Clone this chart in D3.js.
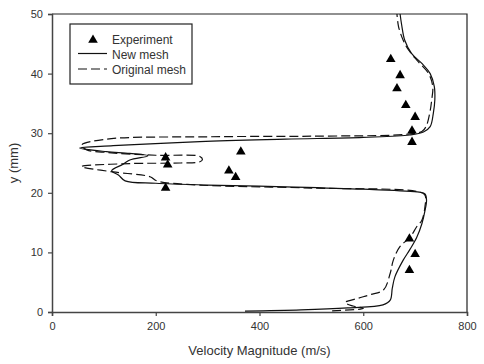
<!DOCTYPE html>
<html>
<head>
<meta charset="utf-8">
<script src="https://cdn.jsdelivr.net/npm/d3@7"></script>
<style>
  body { margin: 0; background: #fff; }
  text { font-family: "Liberation Sans", Arial, sans-serif; fill: #333; }
</style>
</head>
<body>
<script>
//data: [velocity (m/s), y (mm)]
var newMesh = [[372,0.15],[480,0.35],[570,0.7],[638,1.2],[652,2.0],[656,4.0],[661,5.9],[677,8.7],[690,10.5],[703,12.5],[713,14.8],[719,17],[722,18.8],[719,19.8],[708,20.1],[600,20.6],[450,21.0],[300,21.3],[200,21.6],[141,22.0],[128,23.0],[115,23.7],[137,24.8],[150,25.5],[185,26.2],[150,26.6],[105,26.9],[53,27.5],[118,27.9],[285,28.6],[450,29.0],[600,29.3],[690,29.7],[716,30.2],[729,31.1],[735,33.3],[738,35.6],[737,37.8],[729,40.0],[713,41.7],[693,43.4],[680,45.6],[674,48.2],[671,50]];
var origMesh = [[540,0.2],[600,0.6],[580,1.0],[565,1.6],[590,2.3],[613,2.9],[639,3.7],[652,6.5],[658,8.7],[671,11],[690,12.5],[703,14.3],[713,15.4],[719,17.7],[719,19.6],[705,20.2],[500,20.8],[285,21.3],[202,22.0],[189,22.7],[118,23.5],[57,24.4],[150,24.9],[247,25.0],[285,25.2],[290,25.6],[285,26.1],[200,26.3],[100,26.8],[67,27.2],[57,28.0],[105,29.0],[300,29.4],[500,29.5],[680,29.8],[713,30.3],[721,31.1],[728,33.3],[732,35.6],[734,37.8],[726,40],[706,42],[687,44],[677,45.6],[668,47.9],[665,50]];
var experiment = [[653,42.4],[671,39.7],[665,37.5],[682,34.7],[700,32.7],[694,30.4],[694,28.5],[364,26.9],[219,25.9],[223,24.7],[341,23.7],[354,22.6],[219,20.8],[689,12.3],[700,9.7],[689,7.0]];
var xTicks = [0, 200, 400, 600, 800];
var yTicks = [0, 10, 20, 30, 40, 50];
var legendLabels = ["Experiment", "New mesh", "Original mesh"];

(function(){

//frame
var width = 484, height = 364,
    plotLeft = 52, plotRight = 467, plotTop = 14, plotBottom = 312;

var svg = d3.select("body").append("svg")
    .attr("width", width)
    .attr("height", height);

var x = d3.scaleLinear().domain([0, 800]).range([plotLeft, plotRight]);
var y = d3.scaleLinear().domain([0, 50]).range([plotBottom, plotTop]);

//box top and right
svg.append("path")
    .attr("d", "M" + plotLeft + "," + plotTop + "H" + plotRight + "V" + plotBottom)
    .attr("fill", "none")
    .attr("stroke", "#222")
    .attr("stroke-width", 1.2);

//axes
var xAxis = svg.append("g")
    .attr("transform", "translate(0," + plotBottom + ")")
    .call(d3.axisBottom(x).tickValues(xTicks).tickSize(4).tickPadding(6));
var yAxis = svg.append("g")
    .attr("transform", "translate(" + plotLeft + ",0)")
    .call(d3.axisLeft(y).tickValues(yTicks).tickSize(4).tickPadding(5));

[xAxis, yAxis].forEach(function(a){
    a.select(".domain").attr("stroke", "#444").attr("stroke-width", 1.5);
    a.selectAll(".tick line").attr("stroke", "#444").attr("stroke-width", 1.2);
    a.selectAll(".tick text")
        .style("font-family", "Liberation Sans, Arial, sans-serif")
        .style("font-size", "11px")
        .attr("fill", "#333");
});

//axis titles
svg.append("text")
    .attr("x", (plotLeft + plotRight) / 2)
    .attr("y", 355)
    .attr("text-anchor", "middle")
    .style("font-size", "13px")
    .text("Velocity Magnitude (m/s)");

svg.append("text")
    .attr("transform", "translate(18," + ((plotTop + plotBottom) / 2) + ") rotate(-90)")
    .attr("text-anchor", "middle")
    .style("font-size", "13px")
    .text("y (mm)");

var line = d3.line()
    .x(function(d){ return x(d[0]); })
    .y(function(d){ return y(d[1]); })
    .curve(d3.curveCatmullRom.alpha(0.5));

svg.append("path")
    .datum(newMesh)
    .attr("d", line)
    .attr("fill", "none")
    .attr("stroke", "#111")
    .attr("stroke-width", 1.2);

svg.append("path")
    .datum(origMesh)
    .attr("d", line)
    .attr("fill", "none")
    .attr("stroke", "#111")
    .attr("stroke-width", 1.2)
    .attr("stroke-dasharray", "9,4");

var tri = d3.symbol().type(d3.symbolTriangle).size(40);

svg.selectAll(".exp")
    .data(experiment)
    .enter()
    .append("path")
    .attr("class", "exp")
    .attr("d", tri)
    .attr("transform", function(d){ return "translate(" + x(d[0]) + "," + y(d[1]) + ")"; })
    .attr("fill", "#000");

//legend
var legend = svg.append("g").attr("transform", "translate(70,24)");
legend.append("rect")
    .attr("width", 122).attr("height", 60)
    .attr("fill", "#fff").attr("stroke", "#222").attr("stroke-width", 1.2);

legend.append("path")
    .attr("d", tri)
    .attr("transform", "translate(23,16)")
    .attr("fill", "#000");
legend.append("line")
    .attr("x1", 8).attr("x2", 37).attr("y1", 29.5).attr("y2", 29.5)
    .attr("stroke", "#111").attr("stroke-width", 1.2);
legend.append("line")
    .attr("x1", 8).attr("x2", 37).attr("y1", 45).attr("y2", 45)
    .attr("stroke", "#111").attr("stroke-width", 1.2)
    .attr("stroke-dasharray", "9,4");

legend.selectAll(".lab")
    .data(legendLabels)
    .enter()
    .append("text")
    .attr("class", "lab")
    .attr("x", 42)
    .attr("y", function(d, i){ return 20 + i * 15; })
    .style("font-size", "12px")
    .text(function(d){ return d; });

})();
</script>
</body>
</html>
